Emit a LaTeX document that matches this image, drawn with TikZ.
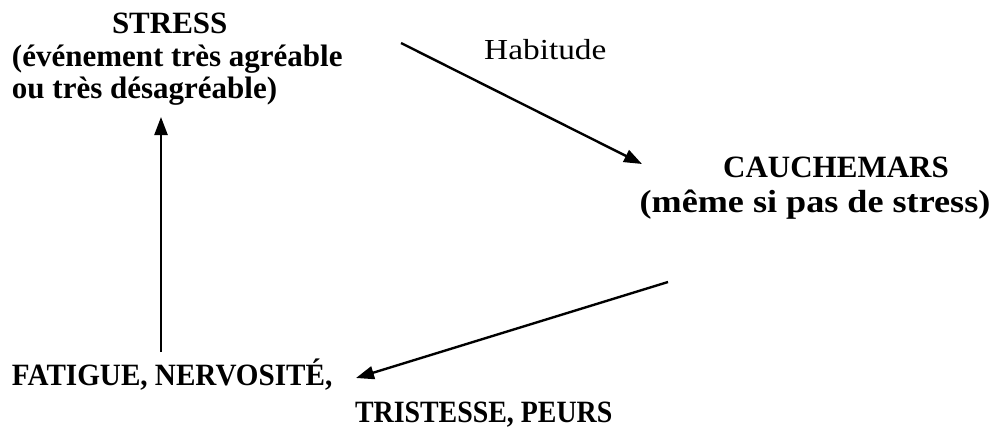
\documentclass[tikz,border=0pt]{standalone}
\usepackage{fontspec}
\setmainfont{Liberation Serif}
\usetikzlibrary{arrows.meta}
\tikzset{
  lbl/.style={inner sep=0pt, outer sep=0pt, font=\bfseries\fontsize{31}{32.5}\selectfont},
  conn/.style={line width=2.4pt, -{Triangle[length=18pt,width=13pt]}},
  habit/.style={inner sep=0pt, font=\fontsize{29}{29}\selectfont}
}
\begin{document}
\begin{tikzpicture}[x=1pt,y=-1pt]
\useasboundingbox (0,0) rectangle (996,442);
% texts
\node[lbl, anchor=base west] (stressA) at (112,33) {STRESS};
\node[lbl, anchor=base west] (stressB) at (12,66) {(événement très agréable};
\node[lbl, anchor=base west] (stressC) at (12,98) {ou très désagréable)};
\node[lbl, anchor=base] (cauchA) at (836,177) {CAUCHEMARS};
\node[lbl, anchor=base] (cauchB) at (815,212) {\scalebox{1.13}[1]{\fontsize{32}{32}\selectfont(même si pas de stress)}};
\node[lbl, anchor=base west] (fatA) at (12,385) {\scalebox{0.94}[1]{FATIGUE, NERVOSITÉ,}};
\node[lbl, anchor=base west] (fatB) at (355,422) {\scalebox{0.9}[1]{TRISTESSE, PEURS}};
\node[habit, anchor=base west] (hab) at (484,59) {\scalebox{1.15}[1]{Habitude}};
% connector ends
\coordinate (a1s) at (401,43);
\coordinate (a1e) at (642,164);
\coordinate (a2s) at (161,352);
\coordinate (a2e) at (161,117);
\coordinate (a3s) at (668,282);
\coordinate (a3e) at (356,378);
\draw[conn] (a1s) -- (a1e);
\draw[conn] (a2s) -- (a2e);
\draw[conn] (a3s) -- (a3e);
\end{tikzpicture}
\end{document}
